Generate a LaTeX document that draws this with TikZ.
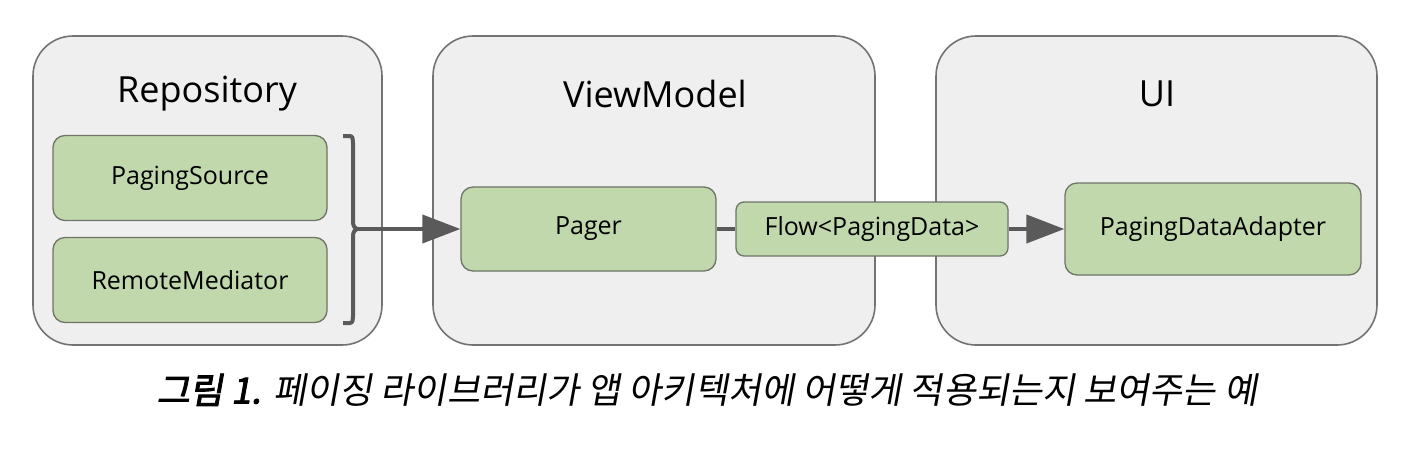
\documentclass[tikz,border=0pt]{standalone}
\usepackage{fontspec}
\setmainfont{Open Sans}
\newfontfamily\cjk[FakeSlant=0.18]{Noto Sans CJK KR}
\newfontfamily\cjkb[FakeSlant=0.18,FakeBold=2.5]{Noto Sans CJK KR}
\usetikzlibrary{arrows.meta}
\definecolor{outerfill}{HTML}{EFEFEF}
\definecolor{outerline}{HTML}{737373}
\definecolor{greenfill}{HTML}{C0D8AC}
\definecolor{greenline}{HTML}{6E7468}
\definecolor{arrowc}{HTML}{5A5A5A}
\begin{document}
\begin{tikzpicture}[x=1pt,y=-1pt,
  outerbox/.style={draw=outerline,fill=outerfill,line width=1.6pt,rounded corners=40pt},
  greenbox/.style={draw=greenline,fill=greenfill,line width=1.3pt,rounded corners=12pt,inner sep=0pt,font=\fontsize{25}{28}\selectfont},
  titletext/.style={font=\fontsize{36}{40}\selectfont},
  conn/.style={draw=arrowc,line width=4pt},
  arr/.style={conn,-{Triangle[length=38pt,width=28pt]}}]
\useasboundingbox (0,0) rectangle (1404,448);
\fill[white] (0,0) rectangle (1404,448);
% outer containers
\draw[outerbox] (33,36) rectangle (382,345);
\draw[outerbox] (433,36) rectangle (875,345);
\draw[outerbox] (936,36) rectangle (1377,345);
\node[titletext] (trepo) at (207,94) {Repository};
\node[titletext] (tvm) at (655,94) {ViewModel};
\node[titletext] (tui) at (1157,94) {UI};
% inner boxes
\node[greenbox,minimum width=274pt,minimum height=85pt] (ps) at (190,178) {PagingSource};
\node[greenbox,minimum width=274pt,minimum height=85pt] (rm) at (190,280) {RemoteMediator};
\node[greenbox,minimum width=255pt,minimum height=84pt] (pager) at (588.5,229) {Pager};
\node[greenbox,minimum width=272pt,minimum height=54pt,rounded corners=8pt] (flow) at (872,229) {Flow<PagingData>};
\node[greenbox,minimum width=296pt,minimum height=92pt] (pda) at (1213,229) {PagingDataAdapter};
% bracket
\coordinate (bt) at (343,136);
\coordinate (bb) at (343,323);
\coordinate (bm) at (353,229);
\draw[draw=arrowc,line width=4pt,line join=round] (bt) -- (350,136) to[out=0,in=90] (353,143) -- (353,222) to[out=270,in=180] (358,229);
\draw[draw=arrowc,line width=4pt,line join=round] (bb) -- (350,323) to[out=0,in=270] (353,316) -- (353,236) to[out=90,in=180] (358,229);
\draw[arr] (357,229) -- (pager.west);
% connectors
\draw[conn] (pager.east) -- (flow.west);
\draw[arr] (flow.east) -- (pda.west);
% caption
\node (cap) at (707,390) {\fontsize{36}{40}\selectfont{\cjkb 그림 1.} {\cjk 페이징 라이브러리가 앱 아키텍처에 어떻게 적용되는지 보여주는 예}};
\end{tikzpicture}
\end{document}
